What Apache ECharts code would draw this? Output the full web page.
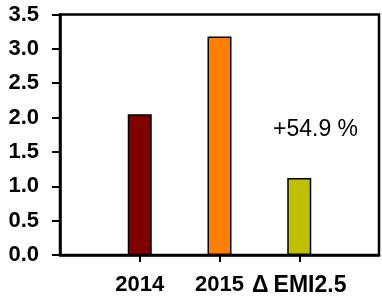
<!DOCTYPE html>
<html>
<head>
<meta charset="utf-8">
<script src="https://cdn.jsdelivr.net/npm/echarts@6/dist/echarts.min.js"></script>
<style>html,body{margin:0;padding:0;background:#fff}#c{width:382px;height:298px}</style>
</head>
<body>
<div id="c"></div>
<script>
const categories = ['', '2014', '2015', '\u0394EMI2.5', ''];
const values = [null, 2.05, 3.18, 1.12, null];
const barColors = [null, '#800000', '#FF8000', '#C0C000', null];
const yTicks = {min: 0, max: 3.5, interval: 0.5};
const annotation = '+54.9 %';

const chart = echarts.init(document.getElementById('c'));
const font = 'Arial, "Liberation Sans", sans-serif';
const rs = (size, extra) => Object.assign({color: '#000', fontWeight: 'bold', fontSize: size, fontFamily: font}, extra || {});
chart.setOption({
  animation: false,
  grid: {left: 60, right: 1.5, top: 14.5, bottom: 43, show: true, borderColor: '#000', borderWidth: 2.5, backgroundColor: 'transparent'},
  xAxis: {
    type: 'category', data: categories, boundaryGap: false,
    axisLine: {lineStyle: {color: '#000', width: 2.5}},
    axisTick: {show: true, length: 7, lineStyle: {color: '#000', width: 2}, interval: (i) => i >= 1 && i <= 3},
    axisLabel: {
      color: '#000', fontWeight: 'bold', fontSize: 22, fontFamily: font, margin: 19, interval: 0,
      formatter: v => v.charAt(0) === '\u0394' ? '{d|\u0394}{e|' + v.slice(1) + '}' : v,
      rich: {d: rs(23, {padding: [0, 5, 0, 0]}), e: rs(23)}
    },
    splitLine: {show: false}
  },
  yAxis: {
    type: 'value', min: yTicks.min, max: yTicks.max, interval: yTicks.interval,
    axisLine: {show: true, lineStyle: {color: '#000', width: 2.5}},
    axisTick: {show: true, length: 8, lineStyle: {color: '#000', width: 2}},
    axisLabel: {color: '#000', fontWeight: 'bold', fontSize: 22, fontFamily: font, margin: 21, formatter: v => v.toFixed(1)},
    splitLine: {show: false}
  },
  series: [{
    type: 'bar', barWidth: 24,
    data: values.map((v, i) => v === null ? null : {value: v, itemStyle: {color: barColors[i], borderColor: '#000', borderWidth: 1.5}})
  }],
  graphic: [{
    type: 'text', left: 273, top: 118,
    style: {text: annotation, fill: '#000', font: '23px ' + font}
  }]
});
</script>
</body>
</html>
